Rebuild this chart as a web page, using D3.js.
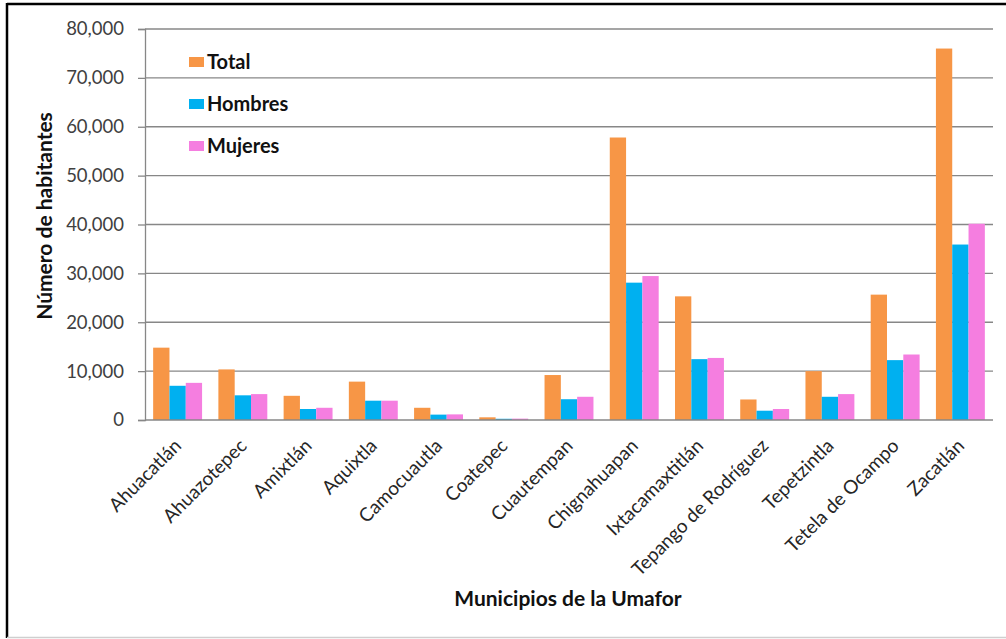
<!DOCTYPE html>
<html>
<head>
<meta charset="utf-8">
<script src="https://cdn.jsdelivr.net/npm/d3@7"></script>
<style>
  html, body { margin: 0; padding: 0; background: #fff; }
  svg { display: block; font-family: Lato, "Liberation Sans", sans-serif; }
</style>
</head>
<body>
<svg id="chart" width="1006" height="639"></svg>
<script>
const categories = ["Ahuacatlán","Ahuazotepec","Amixtlán","Aquixtla","Camocuautla","Coatepec","Cuautempan","Chignahuapan","Ixtacamaxtitlán","Tepango de Rodríguez","Tepetzintla","Tetela de Ocampo","Zacatlán"];
const seriesNames = ["Total","Hombres","Mujeres"];
const totalValues   = [14800, 10350, 4950, 7850, 2500, 550, 9200, 57800, 25300, 4200, 10000, 25650, 76000];
const hombresValues = [7000, 5050, 2250, 3950, 1100, 250, 4250, 28100, 12450, 1900, 4750, 12250, 35900];
const mujeresValues = [7600, 5300, 2500, 3950, 1150, 280, 4750, 29450, 12700, 2250, 5300, 13400, 40150];
const yTicks = [0, 10000, 20000, 30000, 40000, 50000, 60000, 70000, 80000];
const colors = ["#f79646", "#00b0f0", "#f57ee0"];
const yTitle = "Número de habitantes";
const xTitle = "Municipios de la Umafor";

const seriesValues = [totalValues, hombresValues, mujeresValues];
const svg = d3.select("#chart");

// frame
svg.append("line").attr("x1", 7).attr("x2", 1006).attr("y1", 4).attr("y2", 4).attr("stroke", "#000").attr("stroke-width", 2.5);
svg.append("line").attr("x1", 7).attr("x2", 7).attr("y1", 3).attr("y2", 638).attr("stroke", "#000").attr("stroke-width", 2.5);
svg.append("line").attr("x1", 7).attr("x2", 1006).attr("y1", 637.5).attr("y2", 637.5).attr("stroke", "#cfcfcf").attr("stroke-width", 1.5);

const mLeft = 145, mRight = 993, mTop = 29, mBottom = 420;
const x = d3.scaleBand().domain(categories).range([mLeft, mRight]).paddingInner(0).paddingOuter(0);
const bw = x.bandwidth();
const xs = d3.scaleBand().domain(seriesNames).range([bw / 8, bw - bw / 8]).padding(0);
const y = d3.scaleLinear().domain([0, 80000]).range([mBottom, mTop]);

// gridlines
svg.append("g").selectAll("line").data(yTicks.filter(d => d > 0)).join("line")
  .attr("x1", mLeft).attr("x2", mRight)
  .attr("y1", d => y(d)).attr("y2", d => y(d))
  .attr("stroke", "#878787").attr("stroke-width", 1.3);

// y axis
const yAxis = svg.append("g").attr("transform", `translate(${mLeft},0)`)
  .call(d3.axisLeft(y).tickValues(yTicks).tickFormat(d3.format(",")).tickSize(7).tickPadding(14));
yAxis.select(".domain").attr("stroke", "#878787").attr("stroke-width", 1.3);
yAxis.selectAll(".tick line").attr("stroke", "#878787").attr("stroke-width", 1.3);
yAxis.selectAll(".tick text").attr("font-size", 18.5).attr("fill", "#404040").attr("font-family", "Lato, sans-serif");

// bars
const groups = svg.append("g").selectAll("g").data(categories).join("g")
  .attr("transform", d => `translate(${x(d)},0)`);
groups.selectAll("rect").data((d, i) => seriesNames.map((s, k) => ({ s, v: seriesValues[k][i], k })))
  .join("rect")
  .attr("x", d => xs(d.s))
  .attr("width", xs.bandwidth())
  .attr("y", d => y(d.v))
  .attr("height", d => y(0) - y(d.v))
  .attr("fill", d => colors[d.k]);

// x baseline
svg.append("line").attr("x1", mLeft).attr("x2", mRight).attr("y1", y(0)).attr("y2", y(0))
  .attr("stroke", "#878787").attr("stroke-width", 1.3);

// x labels
svg.append("g").selectAll("text").data(categories).join("text")
  .attr("transform", d => `translate(${x(d) + bw / 2 + 5},${mBottom + 27}) rotate(-45)`)
  .attr("text-anchor", "end")
  .attr("font-size", 19)
  .attr("fill", "#262626")
  .text(d => d);

// legend
const legend = svg.append("g").selectAll("g").data(seriesNames).join("g")
  .attr("transform", (d, i) => `translate(189,${62 + i * 42})`);
legend.append("rect").attr("x", 0).attr("y", -5).attr("width", 15).attr("height", 10)
  .attr("fill", (d, i) => colors[i]);
legend.append("text").attr("x", 18).attr("y", 7).attr("font-size", 20).attr("font-weight", "bold")
  .attr("fill", "#111").text(d => d);

// titles
svg.append("text").attr("transform", "translate(52,216) rotate(-90)")
  .attr("text-anchor", "middle").attr("font-size", 21).attr("font-weight", "bold").attr("fill", "#111")
  .text(yTitle);
svg.append("text").attr("x", 568).attr("y", 606)
  .attr("text-anchor", "middle").attr("font-size", 21).attr("font-weight", "bold").attr("fill", "#111")
  .text(xTitle);
</script>
</body>
</html>
